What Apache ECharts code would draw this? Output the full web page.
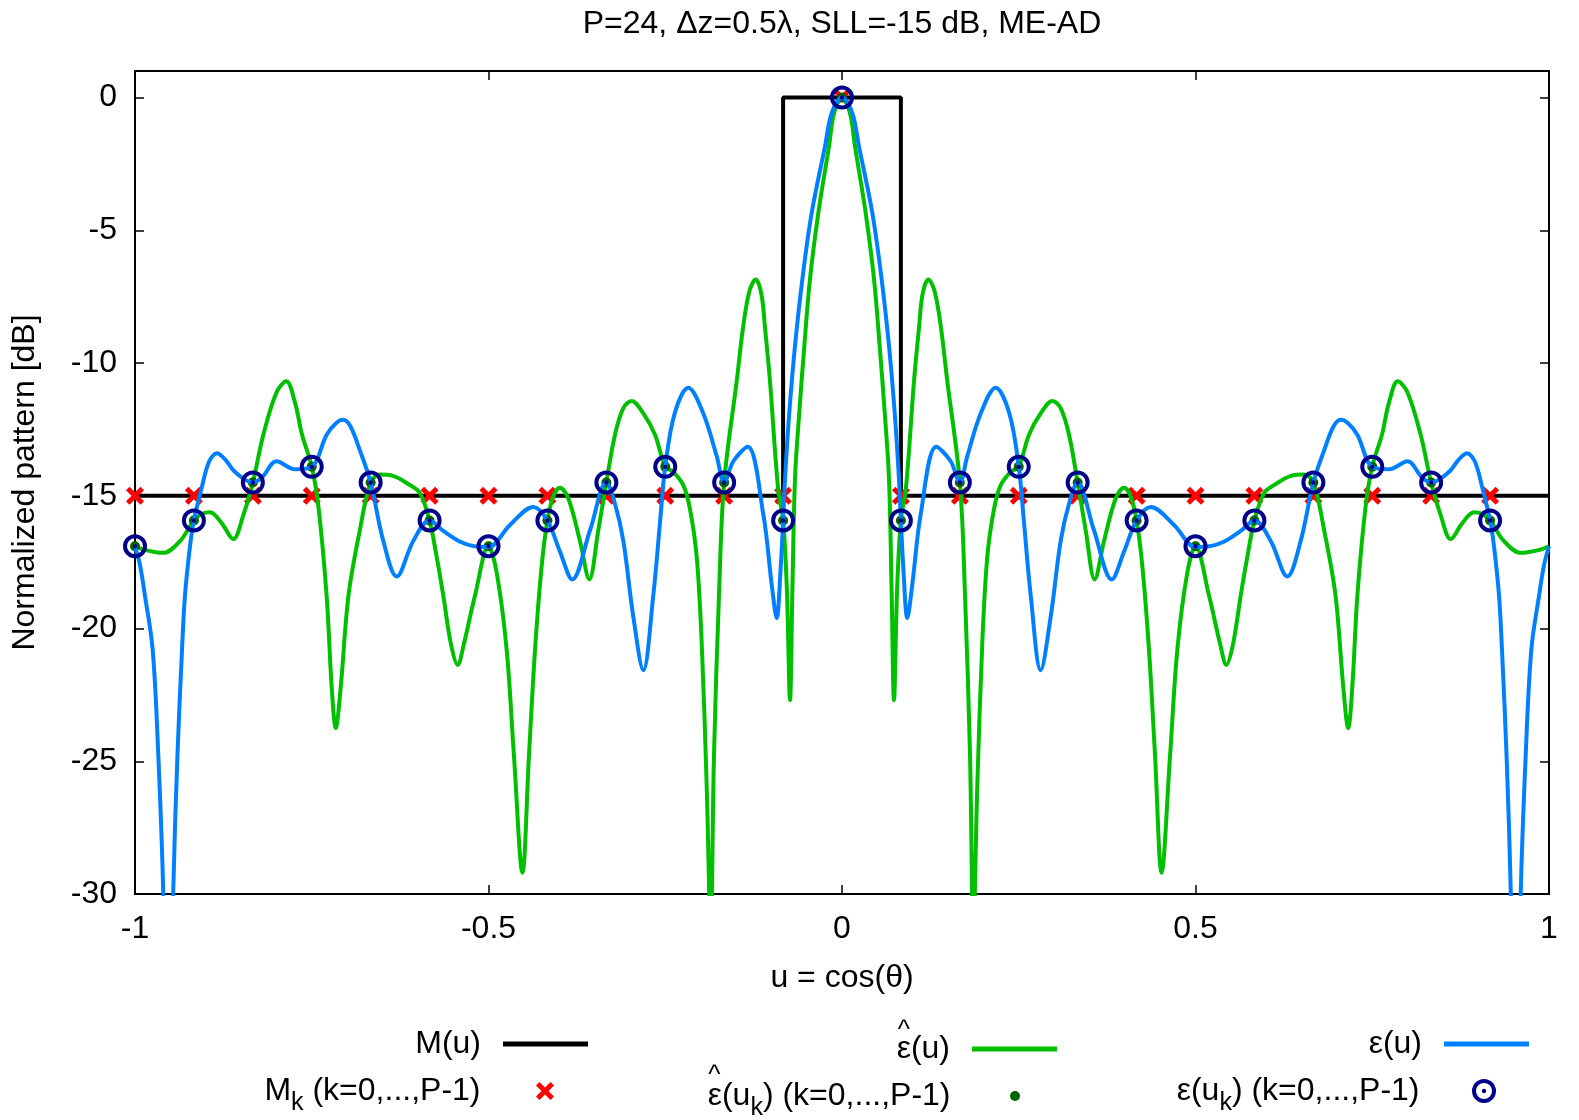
<!DOCTYPE html>
<html>
<head>
<meta charset="utf-8">
<script src="https://cdn.jsdelivr.net/npm/echarts@6/dist/echarts.min.js"></script>
<style>
html,body{margin:0;padding:0;background:#fff;}
#chart{width:1579px;height:1120px;}
</style>
</head>
<body>
<div id="chart"></div>
<script>
const FONT = '"Liberation Sans", Arial, Helvetica, sans-serif';
const FS = 32;

// ---------- data ----------
// Mask M(u)
const maskU  = [-1, -0.0833, -0.0833, 0.0833, 0.0833, 1];
const maskDB = [-15, -15, 0, 0, -15, -15];

// sample points u_k, k = 0..P-1
const sampleU = [-1, -0.9167, -0.8333, -0.75, -0.6667, -0.5833, -0.5, -0.4167, -0.3333, -0.25, -0.1667, -0.0833,
                 0, 0.0833, 0.1667, 0.25, 0.3333, 0.4167, 0.5, 0.5833, 0.6667, 0.75, 0.8333, 0.9167];
const maskK = [-15, -15, -15, -15, -15, -15, -15, -15, -15, -15, -15, -15,
               0, -15, -15, -15, -15, -15, -15, -15, -15, -15, -15, -15];
const epsHatK = [-16.9, -15.93, -14.5, -13.91, -14.5, -15.93, -16.9, -15.93, -14.5, -13.91, -14.5, -15.93,
                 0, -15.93, -14.5, -13.91, -14.5, -15.93, -16.9, -15.93, -14.5, -13.91, -14.5, -15.93];
const epsK = [-16.9, -15.93, -14.5, -13.91, -14.5, -15.93, -16.9, -15.93, -14.5, -13.91, -14.5, -15.93,
              0, -15.93, -14.5, -13.91, -14.5, -15.93, -16.9, -15.93, -14.5, -13.91, -14.5, -15.93];

// epsilon-hat(u) curve (green)
const epsHatU = [
 -1.0, -0.985, -0.97, -0.96, -0.936, -0.9167, -0.905, -0.894, -0.8774, -0.861, -0.8468, -0.8333, -0.8185, -0.7996,
 -0.786, -0.7737, -0.7637, -0.75, -0.7406, -0.729, -0.7218, -0.716, -0.709, -0.698, -0.682, -0.6667, -0.6535, -0.635,
 -0.611, -0.597, -0.5833, -0.574, -0.564, -0.553, -0.5436, -0.535, -0.519, -0.5, -0.4884, -0.4743, -0.464, -0.452,
 -0.4428, -0.4342, -0.425, -0.4167, -0.408, -0.399, -0.3871, -0.3706, -0.3574, -0.3447, -0.3333, -0.3211, -0.3093,
 -0.2975, -0.281, -0.2645, -0.25, -0.2386, -0.2245, -0.215, -0.2055, -0.1985, -0.1913, -0.1857, -0.1811, -0.174,
 -0.1667, -0.149, -0.14, -0.131, -0.1221, -0.114, -0.1089, -0.1018, -0.0905, -0.0833, -0.078, -0.0735, -0.0703,
 -0.0665, -0.0604, -0.0533, -0.0453, -0.0335, -0.0184, -0.0113, 0,
 0.0113, 0.0184, 0.0335, 0.0453, 0.0533, 0.0604, 0.0665, 0.0703, 0.0735, 0.078, 0.0833, 0.0905, 0.1018, 0.1089,
 0.114, 0.1221, 0.131, 0.14, 0.149, 0.1667, 0.174, 0.1811, 0.1857, 0.1913, 0.1985, 0.2055, 0.215, 0.2245, 0.2386,
 0.25, 0.2645, 0.281, 0.2975, 0.3093, 0.3211, 0.3333, 0.3447, 0.3574, 0.3706, 0.3871, 0.399, 0.408, 0.4167, 0.425,
 0.4342, 0.4428, 0.452, 0.464, 0.4743, 0.4884, 0.5, 0.519, 0.535, 0.5436, 0.553, 0.564, 0.574, 0.5833, 0.597, 0.611,
 0.635, 0.6535, 0.6667, 0.682, 0.698, 0.709, 0.716, 0.7218, 0.729, 0.7406, 0.75, 0.7637, 0.7737, 0.786, 0.7996,
 0.8185, 0.8333, 0.8468, 0.861, 0.8774, 0.894, 0.905, 0.9167, 0.936, 0.96, 0.97, 0.985, 1.0];
const epsHatDB = [
 -16.9, -17.05, -17.13, -17.15, -16.7, -15.93, -15.68, -15.62, -16.03, -16.63, -15.73, -14.5, -12.7, -11.09,
 -10.69, -11.49, -12.7, -13.9, -15.4, -18.75, -22.2, -23.75, -22.2, -18.75, -16.3, -14.5, -14.2, -14.25,
 -14.6, -14.9, -15.93, -17.2, -18.75, -20.6, -21.37, -20.6, -18.75, -16.9, -17.9, -20.8, -24.8, -29.2,
 -24.8, -20.8, -17.7, -15.93, -15.0, -14.7, -15.1, -16.7, -18.15, -16.3, -14.5, -12.7, -11.7,
 -11.43, -11.9, -12.7, -13.9, -14.1, -14.6, -15.5, -17.3, -20.5, -26, -31.5, -24.8, -18.75,
 -14.5, -10.7, -8.67, -7.3, -6.85, -7.4, -8.67, -10.7, -14.7, -15.93, -18.5, -22.7, -18.75,
 -14.37, -11.86, -9.36, -6.85, -4.35, -1.84, -0.59, 0,
 -0.59, -1.84, -4.35, -6.85, -9.36, -11.86, -14.37, -18.75, -22.7, -18.5, -15.93, -14.7, -10.7, -8.67,
 -7.4, -6.85, -7.3, -8.67, -10.7, -14.5, -18.75, -24.8, -31.5, -26, -20.5, -17.3, -15.5, -14.6, -14.1,
 -13.9, -12.7, -11.9, -11.43, -11.7, -12.7, -14.5, -16.3, -18.15, -16.7, -15.1, -14.7, -15.0, -15.93, -17.7,
 -20.8, -24.8, -29.2, -24.8, -20.8, -17.9, -16.9, -18.75, -20.6, -21.37, -20.6, -18.75, -17.2, -15.93, -14.9, -14.6,
 -14.25, -14.2, -14.5, -16.3, -18.75, -22.2, -23.75, -22.2, -18.75, -15.4, -13.9, -12.7, -11.49, -10.69, -11.09,
 -12.7, -14.5, -15.73, -16.63, -16.03, -15.62, -15.68, -15.93, -16.7, -17.15, -17.13, -17.05, -16.9];

// epsilon(u) curve (blue)
const epsU = [
 -1.0, -0.993, -0.986, -0.975, -0.967, -0.96, -0.953, -0.946, -0.94, -0.9335, -0.9293, -0.9222, -0.9167, -0.9057,
 -0.895, -0.884, -0.872, -0.8586, -0.8333, -0.82, -0.8, -0.7737, -0.75, -0.7289, -0.715, -0.7054, -0.695, -0.6818,
 -0.6667, -0.6488, -0.6299, -0.6064, -0.5833, -0.565, -0.54, -0.52, -0.5, -0.4696, -0.4366, -0.4167, -0.399, -0.3815,
 -0.3564, -0.3333, -0.3211, -0.3093, -0.2952, -0.281, -0.2669, -0.2574, -0.25, -0.2367, -0.2174, -0.1962, -0.1773,
 -0.1667, -0.1537, -0.1334, -0.1113, -0.0994, -0.0924, -0.0867, -0.0833, -0.0806, -0.0745, -0.0665, -0.0561, -0.0429,
 -0.024, -0.0146, 0,
 0.0146, 0.024, 0.0429, 0.0561, 0.0665, 0.0745, 0.0806, 0.0833, 0.0867, 0.0924, 0.0994, 0.1113, 0.1334, 0.1537,
 0.1667, 0.1773, 0.1962, 0.2174, 0.2367, 0.25, 0.2574, 0.2669, 0.281, 0.2952, 0.3093, 0.3211, 0.3333, 0.3564,
 0.3815, 0.399, 0.4167, 0.4366, 0.4696, 0.5, 0.52, 0.54, 0.565, 0.5833, 0.6064, 0.6299, 0.6488, 0.6667, 0.6818,
 0.695, 0.7054, 0.715, 0.7289, 0.75, 0.7737, 0.8, 0.82, 0.8333, 0.8586, 0.872, 0.884, 0.895, 0.9057, 0.9167,
 0.9222, 0.9293, 0.9335, 0.94, 0.946, 0.953, 0.96, 0.967, 0.975, 0.986, 0.993, 1.0];
const epsDB = [
 -16.9, -17.6, -18.75, -20.8, -24.8, -30, -40, -30, -24.8, -20.8, -18.75, -16.9, -15.93, -14.7,
 -13.7, -13.4, -13.65, -14.1, -14.5, -14.3, -13.7, -14.0, -13.91, -12.7, -12.25, -12.14, -12.4, -13.3,
 -14.5, -16.7, -18.04, -16.7, -15.93, -16.3, -16.73, -16.9, -16.93, -16.1, -15.42, -15.93, -17.1, -18.15,
 -16.3, -14.5, -15.3, -16.7, -19.55, -21.57, -18.75, -16.0, -13.9, -11.9, -10.93, -11.9, -13.5,
 -14.5, -13.7, -13.15, -15.7, -18.35, -19.6, -17.7, -15.93, -14.37, -11.86, -9.36, -6.85, -4.35,
 -1.84, -0.59, 0,
 -0.59, -1.84, -4.35, -6.85, -9.36, -11.86, -14.37, -15.93, -17.7, -19.6, -18.35, -15.7, -13.15, -13.7,
 -14.5, -13.5, -11.9, -10.93, -11.9, -13.9, -16.0, -18.75, -21.57, -19.55, -16.7, -15.3, -14.5, -16.3,
 -18.15, -17.1, -15.93, -15.42, -16.1, -16.93, -16.9, -16.73, -16.3, -15.93, -16.7, -18.04, -16.7, -14.5, -13.3,
 -12.4, -12.14, -12.25, -12.7, -13.91, -14.0, -13.7, -14.3, -14.5, -14.1, -13.65, -13.4, -13.7, -14.7, -15.93,
 -16.9, -18.75, -20.8, -24.8, -30, -40, -30, -24.8, -20.8, -18.75, -17.6, -16.9];

const xTicks = [-1, -0.5, 0, 0.5, 1];
const yTicks = [-30, -25, -20, -15, -10, -5, 0];

// ---------- names ----------
const N_M   = 'M(u)';
const N_EH  = '\u03b5\u0302(u)';
const N_E   = '\u03b5(u)';
const N_MK  = 'M_k (k=0,...,P-1)';
const N_EHK = '\u03b5\u0302(u_k) (k=0,...,P-1)';
const N_EK  = '\u03b5(u_k) (k=0,...,P-1)';

// legend texts (hat drawn above epsilon as a separate '^' text)
const legendText = {};
legendText[N_M]   = '{tp|M(u)}';
legendText[N_EH]  = '{tp|\u03b5(u)}';
legendText[N_E]   = '{tp|\u03b5(u)}';
legendText[N_MK]  = '{t|M}{s|k}{tp| (k=0,...,P-1)}';
legendText[N_EHK] = '{t|\u03b5(u}{s|k}{tp|) (k=0,...,P-1)}';
legendText[N_EK]  = '{t|\u03b5(u}{s|k}{tp|) (k=0,...,P-1)}';

const zip = (a, b) => a.map((v, i) => [v, b[i]]);

const CROSS = 'path://M0,3.5L3.5,0L9,5.5L14.5,0L18,3.5L12.5,9L18,14.5L14.5,18L9,12.5L3.5,18L0,14.5L5.5,9Z';
const RING = 'path://M0,12A12,12,0,1,1,24,12A12,12,0,1,1,0,12ZM4,12A8,8,0,1,0,20,12A8,8,0,1,0,4,12ZM9.8,12A2.2,2.2,0,1,1,14.2,12A2.2,2.2,0,1,1,9.8,12Z';

const C_GREEN = '#00c000', C_BLUE = '#0080ff', C_DGREEN = '#006400', C_DBLUE = '#00008b', C_RED = '#ff0000';

const SUBFS = 25;
const rich = {
  t:  {fontSize: FS, fontFamily: FONT, color: '#000', lineHeight: 36},
  tp: {fontSize: FS, fontFamily: FONT, color: '#000', lineHeight: 36, padding: [0, 17, 0, 0]},
  s:  {fontSize: SUBFS, fontFamily: FONT, color: '#000', lineHeight: 12, verticalAlign: 'top', padding: [18, 0, 0, 0]}
};

// legend geometry (icon centres)
const R1 = 1042, R2 = 1087;
const TOP_OFF = 14;

function mkLegend(name, right, top, w, h, extra) {
  return Object.assign({
    data: [name], right: right, top: top, padding: 0, orient: 'horizontal', align: 'right',
    itemWidth: w, itemHeight: h, selectedMode: false,
    formatter: n => legendText[n],
    textStyle: {fontSize: FS, fontFamily: FONT, color: '#000', rich: rich}
  }, extra || {});
}
const lineLegend = {icon: 'rect', symbolKeepAspect: false};

// hats over epsilon in the epsilon-hat legend entries
const mctx = document.createElement('canvas').getContext('2d');
function tw(s, size) { mctx.font = size + 'px ' + FONT; return mctx.measureText(s).width; }
const TEXT_RIGHT_C2 = 1057 - 85 - 5 - 17;
const epsW = tw('\u03b5', FS);
const w1 = tw('\u03b5(u)', FS);
const w2 = tw('\u03b5(u', FS) + tw('k', SUBFS) + tw(') (k=0,...,P-1)', FS);
const hat1x = TEXT_RIGHT_C2 - w1 + epsW / 2;
const hat2x = TEXT_RIGHT_C2 - w2 + epsW / 2;

const axisLineStyle = {show: true, onZero: false, lineStyle: {color: '#000', width: 2}};
const tickStyle = {show: true, inside: true, length: 9, lineStyle: {color: '#000', width: 1.5}};
const labelFont = {fontSize: FS, fontFamily: FONT, color: '#000'};

const option = {
  animation: false,
  backgroundColor: '#fff',
  title: {
    text: 'P=24, \u0394z=0.5\u03bb, SLL=-15 dB, ME-AD',
    left: 842, top: 8, textAlign: 'center', padding: 0,
    textStyle: {fontSize: FS, fontWeight: 'normal', fontFamily: FONT, color: '#000'}
  },
  grid: {left: 135, right: 30, top: 71, bottom: 226, containLabel: false},
  xAxis: [
    {type: 'value', min: -1, max: 1, interval: 0.5, position: 'bottom',
     axisLine: axisLineStyle, axisTick: tickStyle, splitLine: {show: false},
     axisLabel: Object.assign({margin: 19}, labelFont),
     name: 'u = cos(\u03b8)', nameLocation: 'middle', nameGap: 68, nameTextStyle: labelFont},
    {type: 'value', min: -1, max: 1, interval: 0.5, position: 'top',
     axisLine: axisLineStyle, axisTick: tickStyle, splitLine: {show: false}, axisLabel: {show: false}}
  ],
  yAxis: [
    {type: 'value', min: -30, max: 1, interval: 5, position: 'left',
     axisLine: axisLineStyle, axisTick: tickStyle, splitLine: {show: false},
     axisLabel: Object.assign({margin: 18, showMaxLabel: false,
        formatter: v => (yTicks.indexOf(v) >= 0 ? String(v) : '')}, labelFont),
     name: 'Normalized pattern [dB]', nameLocation: 'middle', nameRotate: 90, nameGap: 94, nameTextStyle: labelFont},
    {type: 'value', min: -30, max: 1, interval: 5, position: 'right',
     axisLine: axisLineStyle, axisTick: tickStyle, splitLine: {show: false}, axisLabel: {show: false}}
  ],
  legend: [
    mkLegend(N_M,   1579 - 588,  R1 - TOP_OFF, 85, 5, lineLegend),
    mkLegend(N_EH,  1579 - 1057, R1 - TOP_OFF + 5, 85, 5, lineLegend),
    mkLegend(N_E,   1579 - 1529, R1 - TOP_OFF, 85, 5, lineLegend),
    mkLegend(N_MK,  1579 - (545 + 9),   R2 - TOP_OFF, 85, 18),
    mkLegend(N_EHK, 1579 - (1015 + 5),  R2 - TOP_OFF + 5, 85, 10),
    mkLegend(N_EK,  1579 - (1484 + 12), R2 - TOP_OFF, 85, 24)
  ],
  graphic: [
    {type: 'text', x: hat1x, y: R1 - 11, silent: true,
     style: {text: '^', fontSize: 26, fontFamily: FONT, fill: '#000', align: 'center', verticalAlign: 'middle'}},
    {type: 'text', x: hat2x, y: R2 - 11, silent: true,
     style: {text: '^', fontSize: 26, fontFamily: FONT, fill: '#000', align: 'center', verticalAlign: 'middle'}}
  ],
  series: [
    {name: N_M, type: 'line', data: zip(maskU, maskDB), symbol: 'none', showSymbol: false, z: 2,
     lineStyle: {color: '#000', width: 4}, itemStyle: {color: '#000'}, silent: true},
    {name: N_MK, type: 'scatter', data: zip(sampleU, maskK), symbol: CROSS, symbolSize: 18, z: 3,
     itemStyle: {color: C_RED, opacity: 1}, silent: true},
    {name: N_EH, type: 'line', data: zip(epsHatU, epsHatDB), symbol: 'none', showSymbol: false, smooth: 0.35, z: 4,
     lineStyle: {color: C_GREEN, width: 4}, itemStyle: {color: C_GREEN}, silent: true},
    {name: N_EHK, type: 'scatter', data: zip(sampleU, epsHatK), symbol: 'circle', symbolSize: 10, z: 5,
     itemStyle: {color: C_DGREEN, opacity: 1}, silent: true},
    {name: N_E, type: 'line', data: zip(epsU, epsDB), symbol: 'none', showSymbol: false, smooth: 0.35, z: 6,
     lineStyle: {color: C_BLUE, width: 4}, itemStyle: {color: C_BLUE}, silent: true},
    {name: N_EK, type: 'scatter', data: zip(sampleU, epsK), symbol: RING, symbolSize: 24, z: 7,
     itemStyle: {color: C_DBLUE, opacity: 1}, silent: true}
  ]
};

const chart = echarts.init(document.getElementById('chart'), null, {renderer: 'canvas'});
chart.setOption(option);
</script>
</body>
</html>
